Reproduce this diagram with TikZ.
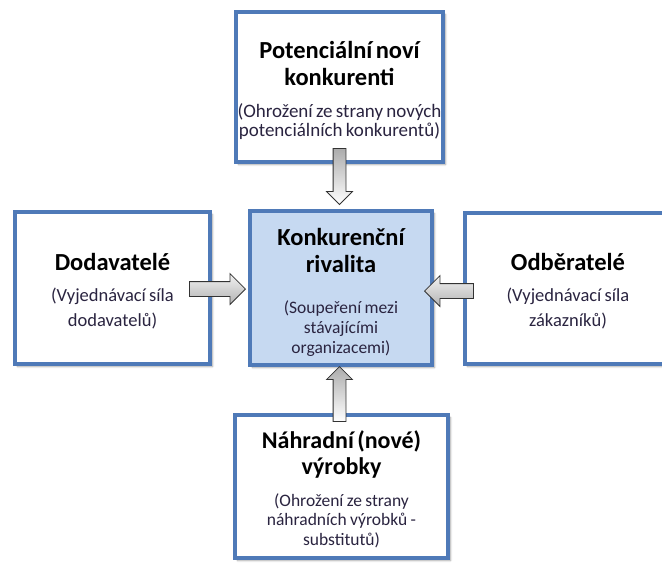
\documentclass[tikz,border=0pt]{standalone}
\usepackage{fontspec}
\setmainfont{Carlito}
\usetikzlibrary{calc,shadows.blur,shapes.arrows}
\definecolor{boxblue}{HTML}{4F7AB8}
\definecolor{centerfill}{HTML}{C6D9F1}
\definecolor{subtext}{HTML}{2A2440}
\newcommand{\ttltxt}[3]{{\fontsize{#1}{#2}\selectfont\bfseries #3\par}}
\newcommand{\subtxt}[3]{{\fontsize{#1}{#2}\selectfont\color{subtext}#3\par}}
\tikzset{
  forcebox/.style={draw=boxblue, line width=4pt, fill=white, inner sep=0pt,
    blur shadow={shadow xshift=2.5pt, shadow yshift=-2.5pt, shadow blur steps=6, shadow opacity=35}},
  boxtext/.style={inner sep=0pt, align=center, text width=#1},
  vertarrow/.style={single arrow, draw=black!80, line width=0.8pt, inner xsep=6pt, inner ysep=0pt,
    single arrow head extend=6.5pt, single arrow head indent=0pt,
    top color=gray!65, bottom color=white, minimum height=#1},
  horarrow/.style={single arrow, draw=black!80, line width=0.8pt, inner xsep=0pt, inner ysep=7pt,
    single arrow head extend=8pt, single arrow head indent=0pt,
    top color=gray!10, bottom color=gray!60, minimum height=#1},
}
\begin{document}
\begin{tikzpicture}[x=1pt,y=-1pt]
\useasboundingbox (0,0) rectangle (662,563);
\clip (0,0) rectangle (662,563);

% boxes
\node[forcebox, minimum width=207pt, minimum height=150pt] (top) at (339.5,87) {};
\node[forcebox, minimum width=195pt, minimum height=152pt] (left) at (112.5,288) {};
\node[forcebox, fill=centerfill, minimum width=182pt, minimum height=154pt] (ctr) at (341,288) {};
\node[forcebox, minimum width=206pt, minimum height=151pt] (right) at (568,288.5) {};
\node[forcebox, minimum width=213pt, minimum height=143pt] (bot) at (341.5,486.5) {};

% texts
\node[boxtext=205pt] (topT) at ($(top.center)+(0,3.5)$)
  {\ttltxt{24.5}{26.5}{Potenciální noví\\konkurenti}\vspace{13pt}\subtxt{19}{19}{(Ohrožení ze strany nových\\potenciálních konkurentů)}};
\node[boxtext=190pt] (leftT) at ($(left.center)+(0,3.5)$)
  {\ttltxt{24.5}{26}{Dodavatelé}\vspace{5pt}\subtxt{18.5}{25.5}{(Vyjednávací síla\\dodavatelů)}};
\node[boxtext=180pt] (ctrT) at ($(ctr.center)+(0,4)$)
  {\ttltxt{24.5}{27}{Konkurenční\\rivalita}\vspace{21pt}\subtxt{17.5}{20}{(Soupeření mezi\\stávajícími\\organizacemi)}};
\node[boxtext=200pt] (rightT) at ($(right.center)+(0,3)$)
  {\ttltxt{24.5}{26}{Odběratelé}\vspace{5pt}\subtxt{18.5}{25.5}{(Vyjednávací síla\\zákazníků)}};
\node[boxtext=210pt] (botT) at ($(bot.center)+(0,3)$)
  {\ttltxt{24}{26}{Náhradní (nové)\\výrobky}\vspace{12pt}\subtxt{17.5}{19.5}{(Ohrožení ze strany\\náhradních výrobků -\\substitutů)}};

% arrows
\node[vertarrow=56pt, shape border rotate=270, anchor=tip] (atop) at ($(ctr.north)+(-1.5,-4)$) {};
\node[horarrow=56pt, anchor=tip] (aleft) at ($(ctr.west)+(-2,1)$) {};
\node[horarrow=49pt, shape border rotate=180, anchor=tip] (aright) at ($(ctr.east)+(-10,3)$) {};
\node[vertarrow=55pt, shape border rotate=90, anchor=tip] (abot) at ($(ctr.south)+(-1.5,-1)$) {};
\end{tikzpicture}
\end{document}
